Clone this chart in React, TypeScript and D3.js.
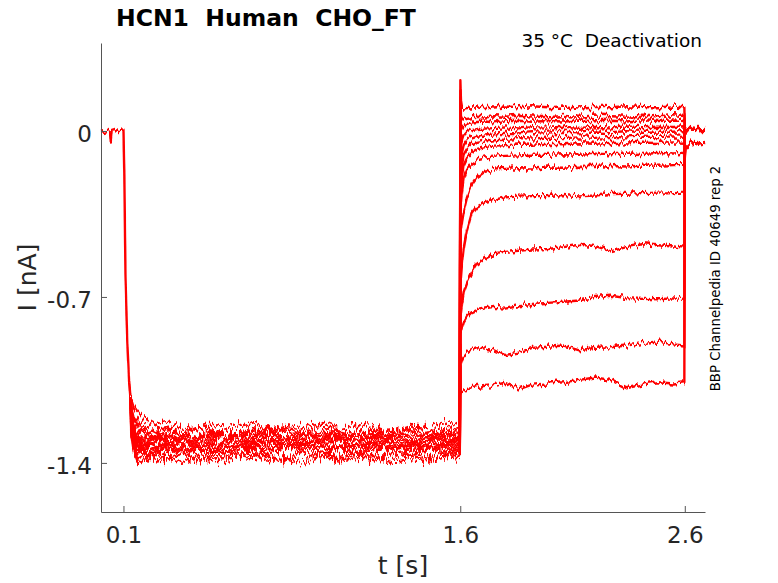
import { useEffect, useRef } from 'react';
import * as d3 from "d3";

// holding level before the hyperpolarising step (s, nA)
const preT = [0, 0.015, 0.03, 0.04, 0.044, 0.048, 0.06, 0.08, 0.1];
const preI = [0.004, 0.0, 0.005, 0.0, -0.045, 0.0, 0.004, 0.0, 0.002];

// fast activation, same for every sweep
const actT = [0.104, 0.109, 0.117, 0.125, 0.131];
const actI = [-0.19, -0.61, -0.89, -1.05, -1.12];

// hyperpolarising step, one row per sweep
const hypT = [0.135, 0.145, 0.16, 0.18, 0.21, 0.25, 0.3, 0.36, 0.42, 0.5, 0.58, 0.66, 0.74, 0.82, 0.9, 0.98, 1.06, 1.14, 1.22, 1.3, 1.38, 1.46, 1.54, 1.598];
const hypI: number[][] = [
    [-1.16, -1.2, -1.22, -1.24, -1.25, -1.27, -1.26, -1.28, -1.25, -1.27, -1.29, -1.26, -1.27, -1.25, -1.28, -1.26, -1.27, -1.29, -1.26, -1.27, -1.25, -1.28, -1.26, -1.27],
    [-1.26, -1.34, -1.38, -1.37, -1.39, -1.36, -1.38, -1.35, -1.39, -1.37, -1.36, -1.38, -1.37, -1.39, -1.35, -1.37, -1.38, -1.36, -1.39, -1.37, -1.36, -1.38, -1.37, -1.36],
    [-1.2, -1.25, -1.27, -1.3, -1.28, -1.31, -1.29, -1.27, -1.3, -1.28, -1.3, -1.27, -1.29, -1.31, -1.28, -1.3, -1.29, -1.27, -1.3, -1.28, -1.31, -1.29, -1.28, -1.3],
    [-1.22, -1.3, -1.33, -1.35, -1.32, -1.34, -1.31, -1.34, -1.33, -1.35, -1.32, -1.33, -1.31, -1.34, -1.32, -1.35, -1.33, -1.31, -1.34, -1.32, -1.33, -1.35, -1.32, -1.33],
    [-1.13, -1.16, -1.18, -1.2, -1.22, -1.24, -1.23, -1.25, -1.26, -1.24, -1.25, -1.23, -1.26, -1.24, -1.25, -1.23, -1.26, -1.24, -1.25, -1.27, -1.24, -1.25, -1.23, -1.25],
    [-1.25, -1.32, -1.36, -1.34, -1.37, -1.35, -1.33, -1.36, -1.34, -1.37, -1.35, -1.34, -1.36, -1.33, -1.35, -1.37, -1.34, -1.36, -1.35, -1.33, -1.36, -1.34, -1.36, -1.35],
    [-1.2, -1.26, -1.29, -1.31, -1.3, -1.28, -1.31, -1.29, -1.32, -1.3, -1.28, -1.31, -1.3, -1.29, -1.32, -1.3, -1.28, -1.31, -1.29, -1.3, -1.32, -1.29, -1.31, -1.3],
    [-1.21, -1.28, -1.31, -1.33, -1.31, -1.34, -1.32, -1.3, -1.33, -1.31, -1.34, -1.32, -1.3, -1.33, -1.31, -1.32, -1.34, -1.31, -1.33, -1.3, -1.32, -1.34, -1.31, -1.32],
    [-1.18, -1.22, -1.24, -1.26, -1.27, -1.29, -1.27, -1.28, -1.3, -1.27, -1.29, -1.28, -1.26, -1.29, -1.27, -1.28, -1.3, -1.27, -1.28, -1.26, -1.29, -1.27, -1.28, -1.29],
    [-1.28, -1.35, -1.39, -1.4, -1.37, -1.39, -1.38, -1.4, -1.37, -1.39, -1.38, -1.36, -1.39, -1.38, -1.4, -1.37, -1.39, -1.38, -1.37, -1.4, -1.38, -1.39, -1.37, -1.38],
    [-1.21, -1.27, -1.3, -1.32, -1.31, -1.29, -1.32, -1.3, -1.31, -1.33, -1.3, -1.32, -1.31, -1.29, -1.32, -1.31, -1.3, -1.33, -1.31, -1.3, -1.32, -1.31, -1.29, -1.31],
    [-1.24, -1.31, -1.34, -1.33, -1.36, -1.34, -1.35, -1.33, -1.35, -1.34, -1.36, -1.33, -1.35, -1.34, -1.32, -1.35, -1.34, -1.36, -1.33, -1.35, -1.34, -1.33, -1.35, -1.34],
    [-1.17, -1.21, -1.24, -1.27, -1.28, -1.3, -1.29, -1.27, -1.3, -1.29, -1.28, -1.3, -1.27, -1.29, -1.3, -1.28, -1.29, -1.31, -1.28, -1.29, -1.27, -1.3, -1.29, -1.28],
    [-1.23, -1.29, -1.32, -1.34, -1.33, -1.31, -1.34, -1.32, -1.35, -1.33, -1.32, -1.34, -1.33, -1.31, -1.34, -1.32, -1.33, -1.35, -1.32, -1.34, -1.33, -1.31, -1.33, -1.34],
];

// deactivation tails, one row per test potential
const deacT = [1.6005, 1.603, 1.608, 1.615, 1.63, 1.65, 1.675, 1.71, 1.75, 1.8, 1.86, 1.92, 1.99, 2.06, 2.13, 2.2, 2.27, 2.34, 2.41, 2.48, 2.55, 2.598];
const deacI: number[][] = [
    [0.21, 0.13, 0.1, 0.095, 0.097, 0.1, 0.098, 0.102, 0.099, 0.103, 0.1, 0.104, 0.1, 0.103, 0.099, 0.102, 0.1, 0.104, 0.101, 0.1, 0.103, 0.1],
    [0.17, 0.06, 0.045, 0.05, 0.055, 0.058, 0.06, 0.057, 0.062, 0.06, 0.064, 0.061, 0.058, 0.063, 0.06, 0.065, 0.062, 0.06, 0.064, 0.062, 0.066, 0.063],
    [0.14, 0.0, 0.01, 0.02, 0.03, 0.035, 0.038, 0.04, 0.036, 0.041, 0.043, 0.039, 0.042, 0.04, 0.044, 0.041, 0.043, 0.04, 0.045, 0.042, 0.044, 0.042],
    [0.1, -0.06, -0.04, -0.02, -0.005, 0.003, 0.008, 0.01, 0.012, 0.015, 0.011, 0.016, 0.014, 0.018, 0.013, 0.017, 0.015, 0.019, 0.016, 0.018, 0.017, 0.02],
    [0.05, -0.12, -0.09, -0.06, -0.04, -0.028, -0.02, -0.015, -0.01, -0.008, -0.01, -0.005, -0.007, -0.003, -0.006, -0.002, -0.005, -0.001, -0.004, -0.002, -0.003, 0.0],
    [0.0, -0.18, -0.14, -0.1, -0.075, -0.058, -0.046, -0.04, -0.035, -0.033, -0.03, -0.032, -0.028, -0.03, -0.027, -0.029, -0.025, -0.027, -0.024, -0.026, -0.023, -0.025],
    [-0.05, -0.24, -0.19, -0.14, -0.11, -0.09, -0.076, -0.068, -0.062, -0.06, -0.057, -0.058, -0.054, -0.056, -0.052, -0.054, -0.05, -0.053, -0.049, -0.051, -0.048, -0.05],
    [-0.1, -0.3, -0.25, -0.2, -0.16, -0.135, -0.12, -0.112, -0.108, -0.105, -0.103, -0.1, -0.101, -0.098, -0.1, -0.096, -0.098, -0.095, -0.097, -0.093, -0.095, -0.092],
    [-0.2, -0.42, -0.38, -0.34, -0.28, -0.23, -0.195, -0.172, -0.163, -0.16, -0.157, -0.158, -0.154, -0.155, -0.151, -0.152, -0.148, -0.15, -0.146, -0.147, -0.144, -0.143],
    [-0.3, -0.62, -0.56, -0.5, -0.42, -0.35, -0.32, -0.3, -0.29, -0.28, -0.277, -0.275, -0.274, -0.27, -0.276, -0.272, -0.266, -0.265, -0.262, -0.26, -0.258, -0.256],
    [-0.6, -0.76, -0.72, -0.68, -0.64, -0.6, -0.56, -0.535, -0.515, -0.51, -0.505, -0.5, -0.498, -0.49, -0.48, -0.485, -0.508, -0.49, -0.478, -0.482, -0.487, -0.492],
    [-0.75, -0.85, -0.83, -0.81, -0.785, -0.765, -0.755, -0.748, -0.742, -0.745, -0.735, -0.73, -0.725, -0.72, -0.715, -0.7, -0.695, -0.705, -0.708, -0.71, -0.706, -0.708],
    [-0.9, -0.98, -0.965, -0.95, -0.935, -0.92, -0.912, -0.918, -0.925, -0.945, -0.935, -0.915, -0.91, -0.905, -0.925, -0.915, -0.912, -0.905, -0.895, -0.888, -0.9, -0.905],
    [-1.0, -1.1, -1.095, -1.09, -1.088, -1.085, -1.08, -1.075, -1.072, -1.062, -1.09, -1.07, -1.065, -1.06, -1.05, -1.04, -1.05, -1.085, -1.07, -1.06, -1.065, -1.06],
];

// back to holding after 2.6 s
const postT = [2.6, 2.603, 2.62, 2.64, 2.66, 2.69];
const postI: number[][] = [
    [0.02, 0.012, 0.008, 0.013, 0.009, 0.012],
    [0.018, 0.01, 0.012, 0.008, 0.011, 0.01],
    [0.02, 0.009, 0.011, 0.014, 0.01, 0.012],
    [0.016, 0.012, 0.009, 0.011, 0.013, 0.009],
    [0.02, 0.01, 0.013, 0.009, 0.012, 0.011],
    [0.015, 0.011, 0.008, 0.012, 0.01, 0.013],
    [0.018, 0.013, 0.01, 0.009, 0.012, 0.01],
    [0.014, 0.009, 0.012, 0.01, 0.008, 0.012],
    [0.012, 0.006, 0.008, 0.011, 0.009, 0.01],
    [0.01, 0.004, 0.007, 0.005, 0.008, 0.006],
    [0.0, 0.002, 0.004, 0.006, 0.003, 0.005],
    [-0.1, -0.07, -0.055, -0.05, -0.058, -0.052],
    [-0.11, -0.075, -0.06, -0.054, -0.05, -0.055],
    [-0.12, -0.08, -0.058, -0.052, -0.056, -0.05],
];

const xTicks = [0.1, 1.6, 2.6];
const yTicks = [0, -0.7, -1.4];

const App = () => {
    const chart = useRef<SVGSVGElement | null>(null);

    useEffect(() => {
        if (!chart.current) return;

        const width = 778;
        const height = 583;
        const left = 101, right = 705, top = 43, bottom = 512;
        const font = "'DejaVu Sans', sans-serif";
        const axisColor = "#555555";
        const textColor = "#262626";

        const svg = d3.select(chart.current)
            .attr("width", width)
            .attr("height", height);
        svg.selectAll("*").remove();

        const x = d3.scaleLinear().domain([0, 2.69]).range([left, right]);
        const y = d3.scaleLinear().domain([-1.607, 0.371]).range([bottom, top]);

        // recording noise look: vertical jitter only
        const defs = svg.append("defs");
        const addJitter = (id: string, freq: string, scale: number, seed: number) => {
            const f = defs.append("filter")
                .attr("id", id)
                .attr("filterUnits", "userSpaceOnUse")
                .attr("x", 0).attr("y", 0)
                .attr("width", width).attr("height", height)
                .attr("color-interpolation-filters", "sRGB");
            f.append("feTurbulence")
                .attr("type", "fractalNoise")
                .attr("baseFrequency", freq)
                .attr("numOctaves", 2)
                .attr("seed", seed)
                .attr("result", "noise");
            f.append("feColorMatrix")
                .attr("in", "noise")
                .attr("type", "matrix")
                .attr("values", "0 0 0 0 0.5  0 1 0 0 0  0 0 1 0 0  0 0 0 0 1")
                .attr("result", "map");
            f.append("feDisplacementMap")
                .attr("in", "SourceGraphic")
                .attr("in2", "map")
                .attr("scale", scale)
                .attr("xChannelSelector", "R")
                .attr("yChannelSelector", "G");
        };
        addJitter("jitter", "0.38 0.04", 11, 4);
        addJitter("jitterHyp", "0.45 0.05", 20, 7);

        // sweeps split in three pieces: holding + activation, hyperpolarised, deactivation + holding
        const startPart: [number, number][] = [];
        preT.forEach((t, i) => startPart.push([t, preI[i]]));
        actT.forEach((t, i) => startPart.push([t, actI[i]]));

        const hypParts = hypI.map(row => {
            const pts: [number, number][] = [[actT[actT.length - 1], actI[actI.length - 1]]];
            hypT.forEach((t, i) => { if (row[i] !== undefined) pts.push([t, row[i]]); });
            return pts;
        });

        const tailParts = hypI.map((row, k) => {
            const pts: [number, number][] = [[hypT[hypT.length - 1], row[row.length - 1]]];
            deacT.forEach((t, i) => { if (deacI[k][i] !== undefined) pts.push([t, deacI[k][i]]); });
            postT.forEach((t, i) => pts.push([t, postI[k][i]]));
            return pts;
        });

        const line = d3.line<[number, number]>()
            .x(d => x(d[0]))
            .y(d => y(d[1]));

        const drawSet = (data: [number, number][][], filterId: string) => {
            svg.append("g")
                .attr("filter", `url(#${filterId})`)
                .selectAll("path")
                .data(data)
                .enter()
                .append("path")
                .attr("fill", "none")
                .attr("stroke", "#ff0000")
                .attr("stroke-width", 2.4)
                .attr("stroke-linejoin", "round")
                .attr("d", line);
        };
        drawSet(hypParts, "jitterHyp");
        drawSet([startPart], "jitter");
        drawSet(tailParts, "jitter");

        // x axis
        const gx = svg.append("g")
            .attr("transform", `translate(0, ${bottom})`)
            .call(d3.axisBottom(x).tickValues(xTicks).tickSizeInner(-6).tickSizeOuter(0)
                .tickFormat(d => `${d}`));
        gx.select(".domain").attr("stroke", axisColor);
        gx.selectAll(".tick line").attr("stroke", axisColor);
        gx.selectAll(".tick text")
            .attr("y", 31).attr("dy", 0)
            .attr("fill", textColor)
            .attr("font-family", font)
            .attr("font-size", 23);

        // y axis
        const gy = svg.append("g")
            .attr("transform", `translate(${left}, 0)`)
            .call(d3.axisLeft(y).tickValues(yTicks).tickSizeInner(-6).tickSizeOuter(0)
                .tickFormat(d => `${d}`));
        gy.select(".domain").attr("stroke", axisColor);
        gy.selectAll(".tick line").attr("stroke", axisColor);
        gy.selectAll(".tick text")
            .attr("x", -9).attr("dy", 10.5)
            .attr("fill", textColor)
            .attr("font-family", font)
            .attr("font-size", 23);

        // labels
        svg.append("text")
            .attr("x", (left + right) / 2).attr("y", 574)
            .attr("text-anchor", "middle")
            .attr("fill", textColor)
            .attr("font-family", font).attr("font-size", 25)
            .text("t [s]");

        svg.append("text")
            .attr("transform", `translate(36, ${(top + bottom) / 2}) rotate(-90)`)
            .attr("text-anchor", "middle")
            .attr("fill", textColor)
            .attr("font-family", font).attr("font-size", 25)
            .text("I [nA]");

        svg.append("text")
            .attr("x", 116).attr("y", 26)
            .attr("fill", "#000000")
            .attr("font-family", font).attr("font-size", 23.5).attr("font-weight", "bold")
            .style("white-space", "pre")
            .text("HCN1  Human  CHO_FT");

        svg.append("text")
            .attr("x", 702).attr("y", 47)
            .attr("text-anchor", "end")
            .attr("fill", "#000000")
            .attr("font-family", font).attr("font-size", 18.5)
            .style("white-space", "pre")
            .text("35 °C  Deactivation");

        svg.append("text")
            .attr("transform", `translate(720, 278.5) rotate(-90)`)
            .attr("text-anchor", "middle")
            .attr("fill", "#000000")
            .attr("font-family", font).attr("font-size", 13.3)
            .text("BBP Channelpedia ID 40649 rep 2");
    }, []);

    return (
        <svg ref={chart} style={{ position: "absolute", left: 0, top: 0, background: "#ffffff" }}></svg>
    );
}

export default App;
